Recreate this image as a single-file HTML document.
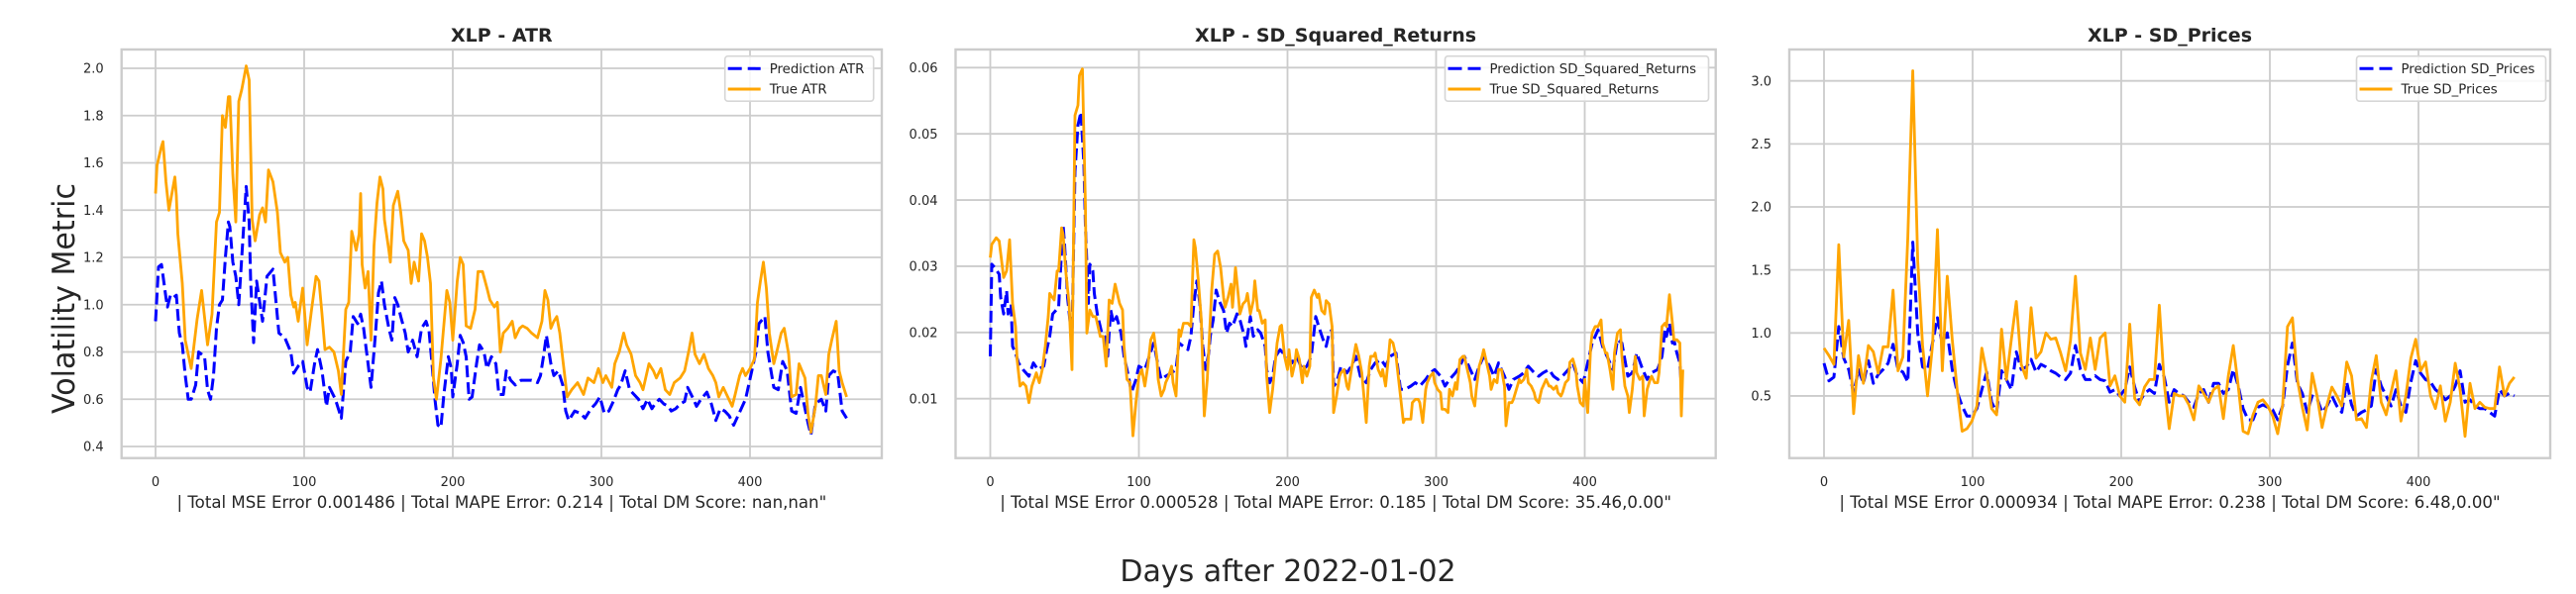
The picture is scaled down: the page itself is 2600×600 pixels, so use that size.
<!DOCTYPE html>
<html><head><meta charset="utf-8"><style>
html,body{margin:0;padding:0;background:#fff;}
svg{display:block;font-family:"DejaVu Sans","Liberation Sans",sans-serif;}
</style></head><body>
<svg id="fig" width="2600" height="600" viewBox="0 0 2600 600" xmlns="http://www.w3.org/2000/svg">
<rect x="0" y="0" width="2600" height="600" fill="#fff"/>
<text transform="translate(75,301.5) rotate(-90)" text-anchor="middle" font-size="31" fill="#262626" textLength="233" lengthAdjust="spacingAndGlyphs">Volatility Metric</text>
<text x="1300" y="587" text-anchor="middle" font-size="30" fill="#262626">Days after 2022-01-02</text>
</svg>
<script>
// ---------- data ----------
const xTicks = [0,100,200,300,400];
const atrTicks = [0.4,0.6,0.8,1.0,1.2,1.4,1.6,1.8,2.0];
const sqrTicks = [0.01,0.02,0.03,0.04,0.05,0.06];
const prcTicks = [0.5,1.0,1.5,2.0,2.5,3.0];

const atrTrueDays = [0,1,4,5,7,9,11,13,14,15,18,20,24,28,31,35,38,41,43,45,47,49,50,52,54,56,58,61,63,65,67,70,72,74,76,79,82,84,87,89,91,93,94,96,99,102,105,108,110,112,114,117,120,123,125,128,130,132,135,137,138,139,141,143,145,147,149,151,153,154,157,158,160,163,165,167,170,172,174,177,179,181,183,185,187,189,192,196,198,200,203,205,207,209,212,215,217,220,223,225,228,230,232,234,237,240,242,245,247,250,253,257,260,262,264,266,268,270,272,274,277,280,284,288,291,295,298,301,303,307,309,312,315,317,320,323,326,328,332,335,337,340,343,346,349,353,356,359,361,363,366,369,372,375,377,379,382,385,388,390,393,395,397,400,403,405,407,409,411,413,416,418,421,423,426,428,431,433,437,439,441,444,446,448,451,453,455,458,460,462,465];
const atrTrueVals = [1.47,1.59,1.67,1.69,1.52,1.40,1.47,1.54,1.46,1.30,1.09,0.85,0.73,0.94,1.06,0.83,0.96,1.35,1.39,1.80,1.75,1.88,1.88,1.55,1.35,1.86,1.91,2.01,1.95,1.36,1.27,1.38,1.41,1.35,1.57,1.52,1.39,1.22,1.18,1.20,1.04,0.99,1.01,0.93,1.07,0.83,0.98,1.12,1.10,0.96,0.81,0.82,0.80,0.72,0.62,0.98,1.01,1.31,1.23,1.30,1.47,1.17,1.07,1.14,0.85,1.25,1.43,1.54,1.49,1.36,1.23,1.18,1.42,1.48,1.39,1.27,1.23,1.09,1.18,1.10,1.30,1.27,1.20,1.09,0.69,0.60,0.77,1.06,1.01,0.85,1.10,1.20,1.17,0.91,0.90,0.98,1.14,1.14,1.07,1.02,0.99,1.01,0.80,0.88,0.90,0.93,0.86,0.90,0.91,0.90,0.88,0.86,0.93,1.06,1.02,0.90,0.93,0.95,0.88,0.77,0.61,0.64,0.67,0.62,0.69,0.67,0.73,0.67,0.70,0.65,0.75,0.80,0.88,0.83,0.79,0.70,0.67,0.64,0.75,0.72,0.69,0.73,0.64,0.62,0.67,0.69,0.72,0.81,0.88,0.79,0.75,0.79,0.73,0.70,0.67,0.61,0.65,0.61,0.57,0.62,0.70,0.73,0.70,0.73,0.77,1.01,1.10,1.18,1.07,0.88,0.75,0.80,0.88,0.90,0.79,0.61,0.62,0.75,0.69,0.54,0.46,0.57,0.70,0.70,0.62,0.79,0.85,0.93,0.72,0.67,0.61];
const atrPredDays = [0,2,4,7,8,10,12,14,16,18,20,22,24,27,29,33,35,37,39,41,43,45,47,49,50,52,54,56,58,61,63,64,66,68,72,75,79,83,87,91,93,96,99,102,104,107,109,112,115,117,121,125,128,131,133,136,138,140,143,145,148,150,152,154,157,159,161,163,165,168,170,173,176,179,182,184,186,188,190,192,194,197,199,200,203,205,207,209,211,213,216,218,221,223,226,229,231,234,236,239,242,246,249,253,257,259,261,263,266,268,271,274,276,278,282,286,289,293,296,299,302,305,308,311,313,316,319,322,325,328,331,334,336,339,342,345,347,350,353,356,358,362,364,367,371,374,377,380,383,386,389,397,404,406,410,412,416,419,422,425,428,431,434,439,441,444,448,451,453,456,459,462,465];
const atrPredVals = [0.93,1.16,1.17,1.03,0.99,1.04,1.03,1.04,0.88,0.83,0.70,0.60,0.60,0.66,0.80,0.78,0.64,0.60,0.70,0.90,1.00,1.02,1.20,1.35,1.33,1.18,1.12,1.00,1.20,1.50,1.35,1.10,0.84,1.10,0.93,1.12,1.15,0.88,0.86,0.80,0.71,0.74,0.76,0.65,0.63,0.75,0.81,0.72,0.57,0.65,0.60,0.52,0.76,0.80,0.95,0.92,0.96,0.90,0.75,0.65,0.88,1.05,1.10,1.00,0.90,0.85,1.03,1.00,0.95,0.88,0.80,0.85,0.78,0.90,0.93,0.89,0.75,0.60,0.49,0.48,0.62,0.78,0.73,0.61,0.75,0.87,0.84,0.78,0.60,0.61,0.75,0.83,0.80,0.73,0.78,0.75,0.62,0.62,0.72,0.68,0.66,0.68,0.68,0.68,0.67,0.70,0.78,0.87,0.75,0.70,0.72,0.66,0.55,0.51,0.55,0.54,0.52,0.56,0.58,0.61,0.54,0.55,0.59,0.64,0.66,0.72,0.64,0.62,0.60,0.56,0.60,0.56,0.58,0.60,0.58,0.57,0.55,0.56,0.58,0.59,0.65,0.60,0.57,0.60,0.63,0.58,0.51,0.56,0.55,0.53,0.49,0.60,0.80,0.92,0.95,0.80,0.65,0.64,0.76,0.72,0.55,0.54,0.65,0.50,0.45,0.58,0.60,0.55,0.70,0.72,0.71,0.55,0.52];

const sqrTrueDays = [0,1,4,6,9,11,13,15,17,18,20,22,24,26,28,31,33,35,37,39,40,43,45,46,48,49,51,53,54,55,57,59,60,62,64,65,67,69,71,74,76,78,80,82,84,87,89,90,92,94,96,98,100,102,104,106,108,110,112,113,115,117,118,120,122,123,125,127,128,130,133,135,137,138,140,142,144,146,147,149,151,153,155,157,158,160,162,163,165,167,168,170,172,173,175,177,178,180,181,183,185,186,188,190,193,195,196,198,200,201,203,205,206,208,210,211,213,215,216,218,220,221,223,225,226,228,230,231,233,235,236,238,240,241,243,245,246,248,250,251,253,255,256,258,259,261,263,264,266,268,269,271,273,274,276,278,279,283,284,286,288,289,291,293,294,296,298,299,301,303,304,306,308,309,311,313,314,316,318,319,321,323,324,326,327,329,331,332,334,336,337,339,341,342,344,346,347,349,351,352,354,356,357,359,361,362,364,366,367,369,371,372,374,376,377,379,381,382,384,385,387,389,390,392,394,395,397,399,400,402,404,405,407,409,411,412,414,415,417,419,420,422,424,425,427,429,430,432,434,435,437,439,440,442,444,445,447,449,450,452,454,455,457,459,460,462,464,465,466];
const sqrTrueVals = [0.0313,0.0333,0.0343,0.0338,0.0283,0.0293,0.0340,0.0244,0.0209,0.0160,0.0119,0.0124,0.0119,0.0094,0.0119,0.0139,0.0124,0.0144,0.0179,0.0224,0.0259,0.0249,0.0293,0.0293,0.0358,0.0348,0.0288,0.0244,0.0194,0.0144,0.0528,0.0543,0.0588,0.0598,0.0393,0.0199,0.0234,0.0224,0.0224,0.0194,0.0194,0.0149,0.0249,0.0244,0.0273,0.0244,0.0234,0.0179,0.0129,0.0124,0.0044,0.0094,0.0134,0.0144,0.0119,0.0149,0.0189,0.0199,0.0164,0.0129,0.0104,0.0114,0.0124,0.0134,0.0149,0.0124,0.0104,0.0204,0.0194,0.0214,0.0214,0.0209,0.0340,0.0328,0.0278,0.0219,0.0074,0.0129,0.0174,0.0264,0.0318,0.0323,0.0298,0.0253,0.0238,0.0253,0.0273,0.0238,0.0298,0.0253,0.0228,0.0243,0.0248,0.0259,0.0228,0.0248,0.0278,0.0233,0.0233,0.0214,0.0219,0.0134,0.0079,0.0114,0.0184,0.0209,0.0211,0.0164,0.0144,0.0174,0.0134,0.0154,0.0174,0.0159,0.0124,0.0149,0.0134,0.0149,0.0253,0.0264,0.0253,0.0258,0.0233,0.0228,0.0248,0.0243,0.0209,0.0079,0.0104,0.0134,0.0139,0.0144,0.0119,0.0114,0.0144,0.0169,0.0182,0.0164,0.0139,0.0114,0.0064,0.0149,0.0164,0.0164,0.0169,0.0144,0.0134,0.0144,0.0119,0.0164,0.0189,0.0184,0.0164,0.0144,0.0104,0.0064,0.0069,0.0069,0.0094,0.0099,0.0099,0.0094,0.0064,0.0114,0.0124,0.0134,0.0139,0.0124,0.0114,0.0109,0.0084,0.0084,0.0079,0.0114,0.0104,0.0124,0.0114,0.0159,0.0164,0.0164,0.0144,0.0124,0.0104,0.0089,0.0114,0.0149,0.0164,0.0174,0.0154,0.0134,0.0114,0.0129,0.0124,0.0144,0.0144,0.0119,0.0059,0.0094,0.0094,0.0099,0.0114,0.0129,0.0124,0.0129,0.0144,0.0124,0.0119,0.0109,0.0099,0.0094,0.0114,0.0119,0.0129,0.0119,0.0119,0.0114,0.0119,0.0109,0.0104,0.0109,0.0124,0.0129,0.0155,0.0160,0.0144,0.0119,0.0094,0.0089,0.0129,0.0079,0.0179,0.0199,0.0209,0.0209,0.0219,0.0184,0.0169,0.0169,0.0144,0.0114,0.0169,0.0199,0.0204,0.0164,0.0119,0.0104,0.0079,0.0114,0.0164,0.0139,0.0129,0.0134,0.0074,0.0114,0.0129,0.0134,0.0124,0.0124,0.0139,0.0209,0.0214,0.0209,0.0257,0.0214,0.0189,0.0189,0.0184,0.0074,0.0144];
const sqrPredDays = [0,1,3,6,7,9,11,12,14,15,17,19,22,26,29,32,36,38,40,42,44,46,47,49,50,52,54,55,57,59,61,63,64,66,67,69,70,72,74,75,77,79,81,83,85,88,90,93,95,98,100,104,107,110,113,115,118,122,125,127,130,133,135,137,139,141,143,145,147,148,150,152,154,157,159,161,163,166,168,171,172,175,177,180,182,185,186,188,190,192,195,197,200,203,206,210,213,216,219,221,224,226,228,230,231,233,236,240,243,246,249,253,256,259,263,266,269,273,276,279,283,286,289,293,296,299,303,306,309,313,316,319,323,326,329,332,336,339,342,346,349,352,356,359,362,366,369,372,376,379,382,385,389,392,395,399,402,405,409,412,415,419,422,425,429,432,435,439,442,445,449,452,454,455,457,459,460,462,464,465];
const sqrPredVals = [0.0164,0.0303,0.0298,0.0288,0.0253,0.0228,0.0263,0.0228,0.0243,0.0179,0.0169,0.0154,0.0144,0.0134,0.0154,0.0144,0.0149,0.0174,0.0194,0.0228,0.0233,0.0238,0.0283,0.0363,0.0333,0.0253,0.0209,0.0194,0.0443,0.0513,0.0533,0.0453,0.0363,0.0244,0.0303,0.0293,0.0259,0.0228,0.0209,0.0199,0.0194,0.0164,0.0234,0.0214,0.0224,0.0199,0.0164,0.0134,0.0109,0.0129,0.0149,0.0144,0.0164,0.0184,0.0149,0.0129,0.0134,0.0139,0.0144,0.0184,0.0179,0.0174,0.0194,0.0244,0.0278,0.0244,0.0179,0.0144,0.0169,0.0194,0.0219,0.0264,0.0248,0.0233,0.0199,0.0214,0.0209,0.0228,0.0219,0.0194,0.0179,0.0224,0.0194,0.0204,0.0199,0.0179,0.0144,0.0124,0.0134,0.0164,0.0174,0.0169,0.0164,0.0154,0.0164,0.0144,0.0149,0.0164,0.0224,0.0209,0.0189,0.0179,0.0199,0.0204,0.0119,0.0124,0.0149,0.0139,0.0149,0.0164,0.0134,0.0124,0.0144,0.0154,0.0159,0.0149,0.0164,0.0169,0.0114,0.0114,0.0119,0.0124,0.0119,0.0129,0.0139,0.0144,0.0134,0.0119,0.0129,0.0139,0.0149,0.0164,0.0144,0.0129,0.0149,0.0164,0.0149,0.0134,0.0154,0.0134,0.0114,0.0129,0.0134,0.0139,0.0149,0.0139,0.0134,0.0139,0.0144,0.0134,0.0129,0.0134,0.0144,0.0154,0.0134,0.0124,0.0154,0.0184,0.0204,0.0179,0.0164,0.0144,0.0189,0.0184,0.0134,0.0139,0.0169,0.0144,0.0129,0.0139,0.0144,0.0164,0.0204,0.0194,0.0214,0.0184,0.0189,0.0169,0.0154,0.0119];

// SD_Prices series sampled every PRC_STEP days
const PRC_STEP = 3.318;
const prcTrueVals = [0.88,0.82,0.75,1.70,0.81,1.10,0.36,0.82,0.60,0.90,0.85,0.68,0.89,0.89,1.34,0.70,0.81,1.76,3.08,1.57,0.90,0.50,0.90,1.82,0.70,1.45,0.95,0.55,0.22,0.24,0.30,0.42,0.88,0.68,0.40,0.35,1.03,0.63,0.95,1.25,0.75,0.64,1.20,0.80,0.85,1.00,0.95,0.96,0.84,0.70,0.94,1.45,0.84,0.71,0.96,0.71,0.96,1.00,0.58,0.66,0.50,0.45,1.07,0.48,0.43,0.57,0.63,0.63,1.22,0.60,0.24,0.52,0.50,0.50,0.43,0.31,0.58,0.52,0.45,0.55,0.58,0.32,0.66,0.90,0.58,0.22,0.20,0.35,0.45,0.47,0.42,0.34,0.20,0.43,1.05,1.12,0.63,0.41,0.23,0.68,0.50,0.25,0.43,0.57,0.50,0.42,0.77,0.66,0.31,0.32,0.25,0.62,0.82,0.45,0.35,0.53,0.70,0.30,0.50,0.80,0.95,0.70,0.77,0.50,0.40,0.58,0.30,0.45,0.76,0.55,0.18,0.60,0.40,0.45,0.41,0.40,0.40,0.73,0.50,0.60,0.65];
const prcPredVals = [0.76,0.62,0.65,1.05,0.80,0.71,0.52,0.71,0.60,0.78,0.60,0.67,0.71,0.76,0.91,0.71,0.69,0.61,1.72,1.00,0.73,0.71,0.92,1.12,0.91,1.00,0.71,0.53,0.42,0.34,0.34,0.40,0.55,0.69,0.45,0.37,0.70,0.63,0.55,0.85,0.71,0.73,0.79,0.69,0.75,0.73,0.70,0.68,0.65,0.63,0.68,0.90,0.71,0.63,0.63,0.66,0.63,0.62,0.53,0.55,0.50,0.55,0.73,0.57,0.45,0.52,0.55,0.52,0.75,0.65,0.45,0.55,0.52,0.50,0.45,0.41,0.52,0.55,0.45,0.60,0.60,0.52,0.55,0.71,0.58,0.40,0.31,0.31,0.41,0.43,0.41,0.39,0.31,0.42,0.74,0.92,0.60,0.52,0.37,0.50,0.48,0.37,0.42,0.50,0.42,0.37,0.61,0.43,0.34,0.37,0.39,0.42,0.71,0.58,0.50,0.42,0.55,0.42,0.37,0.61,0.78,0.68,0.63,0.61,0.55,0.52,0.47,0.50,0.58,0.70,0.45,0.47,0.42,0.40,0.40,0.37,0.34,0.55,0.50,0.52,0.50];

// ---------- drawing ----------
const NS = 'http://www.w3.org/2000/svg';
const svg = document.getElementById('fig');
function mk(tag, attrs, parent){
  const e = document.createElementNS(NS, tag);
  for (const k in attrs) e.setAttribute(k, attrs[k]);
  (parent||svg).appendChild(e);
  return e;
}
const panels = [
  {key:'atr', title:'XLP - ATR', left:122.7, right:890, x0:157, yRef:2.0, yPix:69, k:238.75, ticks:atrTicks, fmt:v=>v.toFixed(1),
   lg:{x:731.7,w:150}, pred:'Prediction ATR', tru:'True ATR',
   xlabel:'| Total MSE Error 0.001486 | Total MAPE Error: 0.214 | Total DM Score: nan,nan"',
   predD:atrPredDays, predV:atrPredVals, trueD:atrTrueDays, trueV:atrTrueVals},
  {key:'sqr', title:'XLP - SD_Squared_Returns', left:964.5, right:1731.7, x0:999.5, yRef:0.06, yPix:68.3, k:6688, ticks:sqrTicks, fmt:v=>v.toFixed(2),
   lg:{x:1458.5,w:266}, pred:'Prediction SD_Squared_Returns', tru:'True SD_Squared_Returns',
   xlabel:'| Total MSE Error 0.000528 | Total MAPE Error: 0.185 | Total DM Score: 35.46,0.00"',
   predD:sqrPredDays, predV:sqrPredVals, trueD:sqrTrueDays, trueV:sqrTrueVals},
  {key:'prc', title:'XLP - SD_Prices', left:1806, right:2574, x0:1841, yRef:3.0, yPix:81.7, k:127.3, ticks:prcTicks, fmt:v=>v.toFixed(1),
   lg:{x:2378.5,w:191}, pred:'Prediction SD_Prices', tru:'True SD_Prices',
   xlabel:'| Total MSE Error 0.000934 | Total MAPE Error: 0.238 | Total DM Score: 6.48,0.00"',
   predD:prcPredVals.map((_,i)=>i*PRC_STEP), predV:prcPredVals, trueD:prcTrueVals.map((_,i)=>i*PRC_STEP), trueV:prcTrueVals}
];
const TOP = 50, BOT = 462.7, XS = 1.5;

panels.forEach(p => {
  const xS = d => p.x0 + d*XS;
  const yS = v => p.yPix + (p.yRef - v)*p.k;
  const g = mk('g', {});
  
  
  const cx = (p.left + p.right)/2;
  xTicks.forEach(t => {
    const l = mk('line', {x1:xS(t), x2:xS(t), y1:TOP, y2:BOT, stroke:'#cccccc', 'stroke-width':1.8}, g);
    
    
    const tx = mk('text', {x:xS(t), y:491, 'text-anchor':'middle', 'font-size':13, fill:'#262626'}, g);
    
    
    tx.textContent = t;
  });
  p.ticks.forEach(t => {
    const l = mk('line', {x1:p.left, x2:p.right, y1:yS(t), y2:yS(t), stroke:'#cccccc', 'stroke-width':1.8}, g);
    
    
    const tx = mk('text', {x:p.left-18, y:yS(t)+4.7, 'text-anchor':'end', 'font-size':13, fill:'#262626'}, g);
    
    
    tx.textContent = p.fmt(t);
  });
  const path = (D, V) => D.map((d,i)=>(i?'L':'M')+xS(d).toFixed(1)+','+yS(V[i]).toFixed(1)).join('');
  const pl = mk('path', {d:path(p.predD,p.predV), fill:'none', stroke:'#0000ff', 'stroke-width':3, 'stroke-dasharray':'12 5', 'stroke-linejoin':'round'}, g);
  
  
  const tl = mk('path', {d:path(p.trueD,p.trueV), fill:'none', stroke:'#ffa500', 'stroke-width':2.8, 'stroke-linejoin':'round'}, g);
  
  
  const fr = mk('rect', {x:p.left, y:TOP, width:p.right-p.left, height:BOT-TOP, fill:'none', stroke:'#cccccc', 'stroke-width':2.4}, g);
  
  
  const ti = mk('text', {x:cx, y:42, 'text-anchor':'middle', 'font-size':19, 'font-weight':'bold', fill:'#262626'}, g);
  
  
  ti.textContent = p.title;
  const xl = mk('text', {x:cx, y:513, 'text-anchor':'middle', 'font-size':16.6, fill:'#262626'}, g);
  
  
  xl.textContent = p.xlabel;
  const lg = mk('g', {}, g);
  
  
  mk('rect', {x:p.lg.x, y:56.7, width:p.lg.w, height:45.5, rx:3, fill:'#ffffff', 'fill-opacity':0.85, stroke:'#d6d6d6', 'stroke-width':1.6}, lg);
  const e1 = mk('line', {x1:p.lg.x+3, x2:p.lg.x+36, y1:69.3, y2:69.3, stroke:'#0000ff', 'stroke-width':3, 'stroke-dasharray':'14 6'}, lg);
  
  
  const t1 = mk('text', {x:p.lg.x+45, y:74, 'font-size':13.3, fill:'#262626'}, lg);
  
  
  t1.textContent = p.pred;
  const e2 = mk('line', {x1:p.lg.x+3, x2:p.lg.x+36, y1:90, y2:90, stroke:'#ffa500', 'stroke-width':3}, lg);
  
  
  const t2 = mk('text', {x:p.lg.x+45, y:94.7, 'font-size':13.3, fill:'#262626'}, lg);
  
  
  t2.textContent = p.tru;
});
</script>
</body></html>
